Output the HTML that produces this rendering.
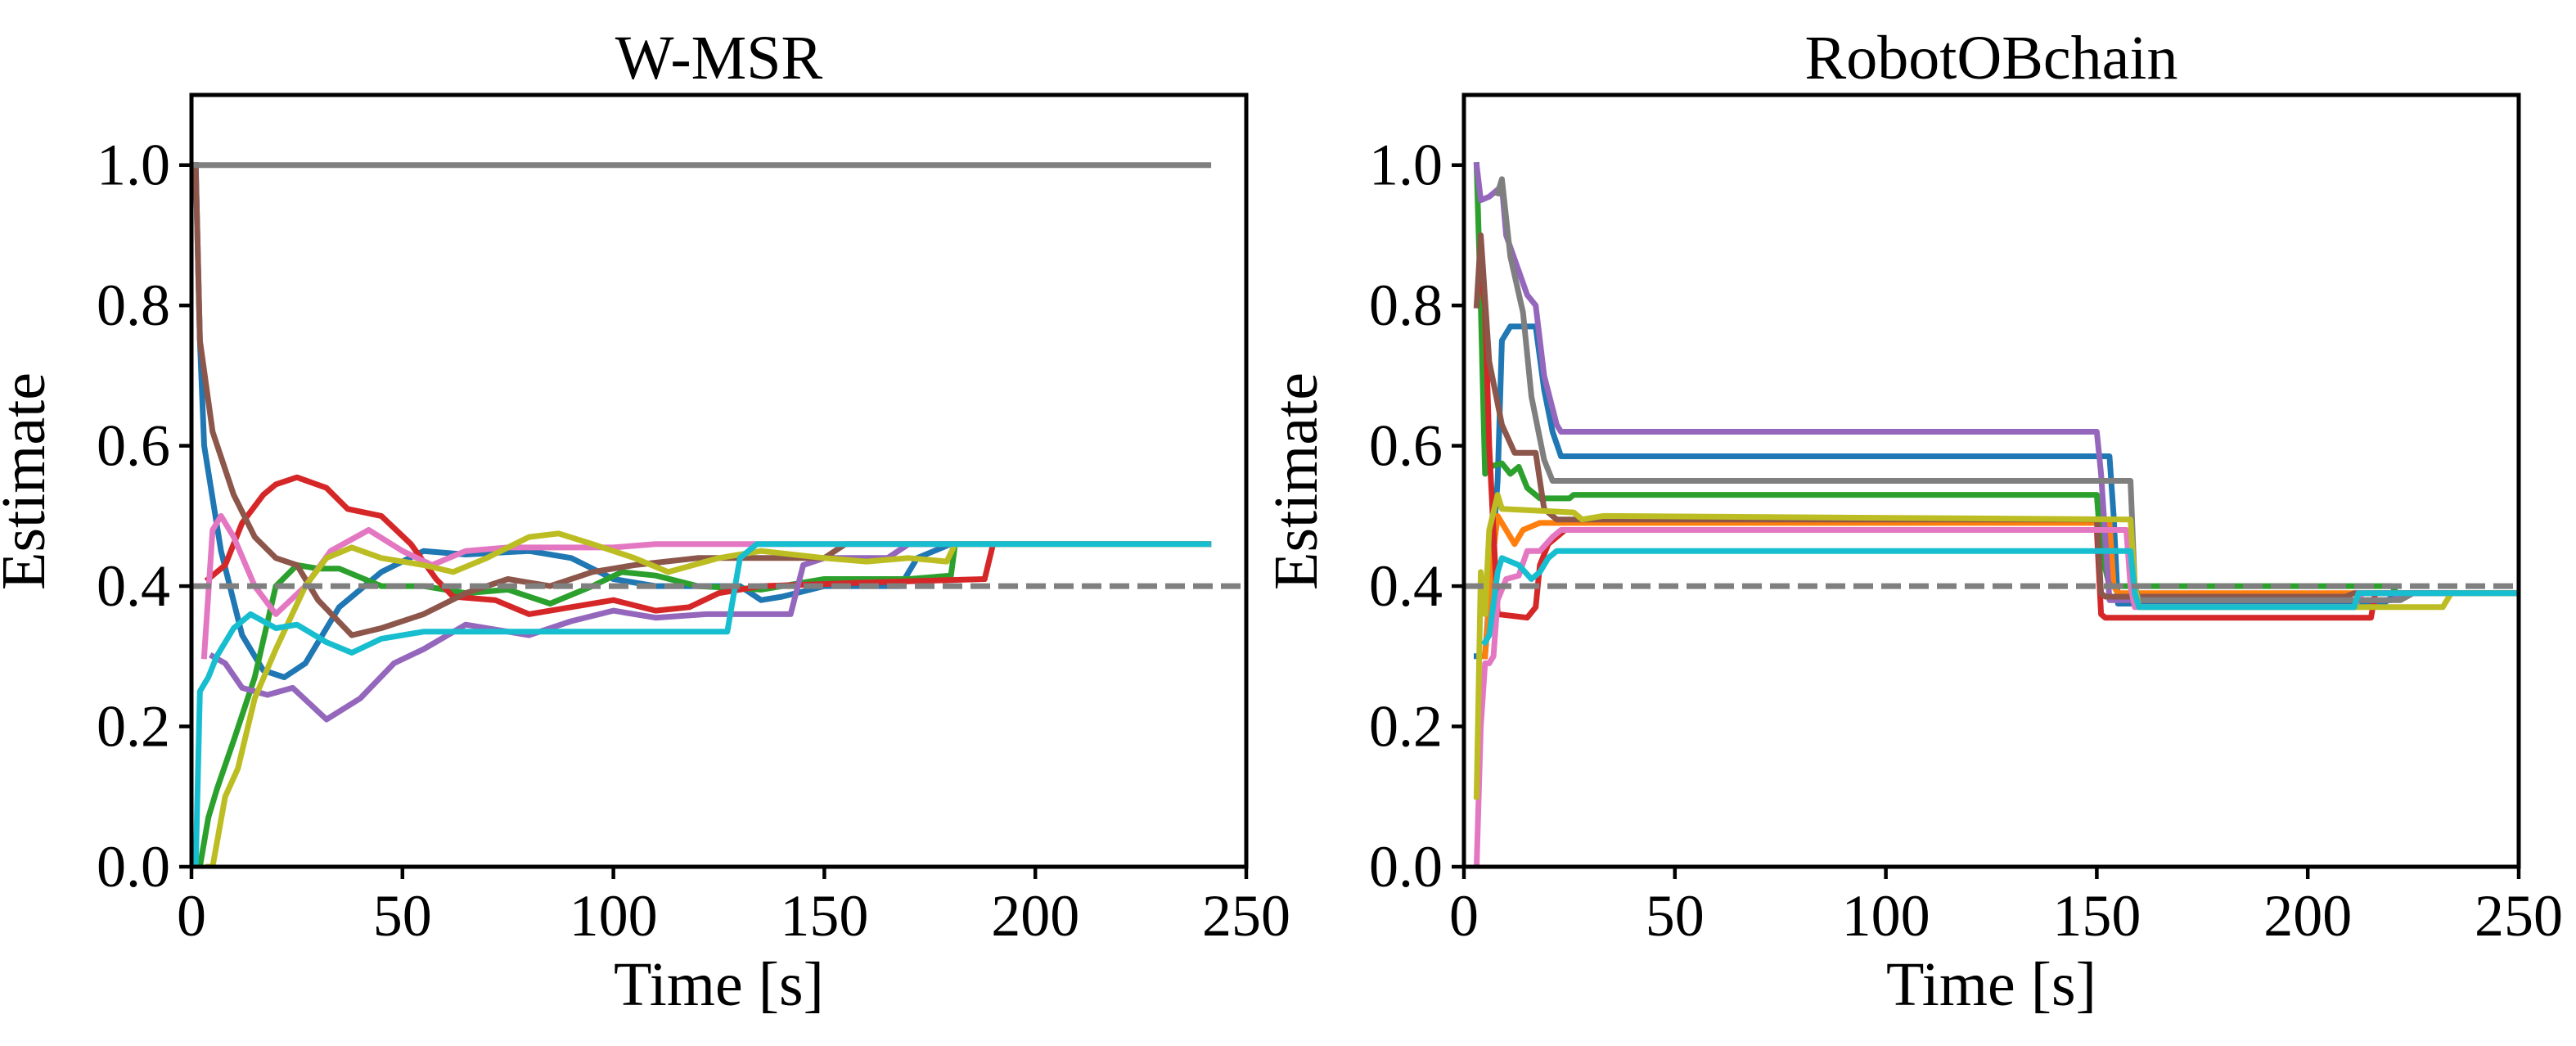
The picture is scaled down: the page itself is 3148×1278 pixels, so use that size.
<!DOCTYPE html>
<html><head><meta charset="utf-8">
<style>
html,body{margin:0;padding:0;background:#fff;}
svg{display:block;}
text{font-family:"Liberation Serif","DejaVu Serif",serif;fill:#000;}
</style></head>
<body>
<svg id="chart" width="3148" height="1278" viewBox="0 0 3148 1278" xmlns="http://www.w3.org/2000/svg"></svg>
<script>
// ---------- data ----------
const xTicks = [0, 50, 100, 150, 200, 250];
const yTicks = [0.0, 0.2, 0.4, 0.6, 0.8, 1.0];
const referenceValue = 0.4;
const seriesColors = ['#1f77b4','#ff7f0e','#2ca02c','#d62728','#9467bd','#8c564b','#e377c2','#7f7f7f','#bcbd22','#17becf'];

// W-MSR series: [time, estimate]
const wBlue = [[1,1.0],[2,0.75],[3,0.6],[7,0.45],[12,0.33],[17,0.28],[22,0.27],[27,0.29],[35,0.37],[45,0.42],[55,0.45],[65,0.445],[80,0.45],[90,0.44],[100,0.41],[110,0.40],[130,0.40],[135,0.38],[140,0.385],[150,0.40],[168,0.40],[172,0.44],[176,0.45],[180,0.46],[241,0.46]];
const wGreen = [[2,0.0],[4,0.07],[6,0.11],[10,0.18],[15,0.27],[20,0.40],[25,0.43],[30,0.425],[35,0.425],[45,0.40],[55,0.40],[65,0.39],[75,0.395],[85,0.375],[95,0.40],[102,0.42],[110,0.415],[120,0.40],[135,0.395],[150,0.41],[170,0.41],[180,0.415],[181,0.46],[241,0.46]];
const wRed = [[4,0.41],[8,0.43],[12,0.49],[17,0.53],[20,0.545],[25,0.555],[32,0.54],[37,0.51],[45,0.50],[52,0.46],[58,0.41],[62,0.385],[72,0.38],[80,0.36],[90,0.37],[100,0.38],[110,0.365],[118,0.37],[125,0.39],[135,0.40],[160,0.405],[188,0.41],[190,0.46],[241,0.46]];
const wPurple = [[5,0.30],[8,0.29],[12,0.255],[18,0.245],[24,0.255],[32,0.21],[40,0.24],[48,0.29],[55,0.31],[65,0.345],[80,0.33],[90,0.35],[100,0.365],[110,0.355],[122,0.36],[142,0.36],[145,0.43],[150,0.44],[165,0.44],[170,0.46],[241,0.46]];
const wBrown = [[1,1.0],[2,0.75],[5,0.62],[10,0.53],[15,0.47],[20,0.44],[25,0.43],[30,0.38],[38,0.33],[45,0.34],[55,0.36],[65,0.39],[75,0.41],[85,0.40],[95,0.42],[105,0.43],[120,0.44],[150,0.44],[155,0.46],[241,0.46]];
const wPink = [[3,0.30],[5,0.48],[7,0.50],[10,0.47],[15,0.40],[20,0.36],[27,0.40],[33,0.45],[42,0.48],[50,0.45],[57,0.43],[65,0.45],[75,0.455],[100,0.455],[110,0.46],[241,0.46]];
const wGray = [[0,1.0],[241,1.0]];
const wOlive = [[4,0.0],[5,0.0],[8,0.10],[11,0.14],[15,0.24],[20,0.31],[27,0.40],[32,0.44],[38,0.455],[45,0.44],[55,0.43],[62,0.42],[70,0.44],[80,0.47],[87,0.475],[95,0.46],[105,0.44],[113,0.42],[125,0.44],[135,0.45],[150,0.44],[160,0.435],[170,0.44],[179,0.435],[181,0.46],[241,0.46]];
const wCyan = [[1,0.0],[2,0.25],[4,0.27],[6,0.30],[10,0.34],[14,0.36],[20,0.34],[25,0.345],[32,0.32],[38,0.305],[45,0.325],[55,0.335],[127,0.335],[130,0.44],[134,0.46],[241,0.46]];

// RobotOBchain series
const rBlue = [[3,0.30],[5,0.30],[8,0.55],[9,0.75],[11,0.77],[17,0.77],[19,0.68],[21,0.62],[23,0.585],[153,0.585],[154,0.50],[155,0.375],[218,0.375],[221,0.39],[250,0.39]];
const rOrange = [[5,0.30],[7,0.45],[8,0.50],[9,0.49],[12,0.46],[14,0.48],[18,0.49],[22,0.49],[153,0.49],[154,0.40],[155,0.39],[250,0.39]];
const rGreen = [[3,1.0],[4,0.80],[5,0.56],[6,0.57],[9,0.575],[11,0.56],[13,0.57],[15,0.54],[18,0.525],[25,0.525],[26,0.53],[150,0.53],[151,0.45],[153,0.40],[220,0.40],[221,0.39],[250,0.39]];
const rRed = [[4,0.85],[5,0.80],[6,0.60],[8,0.36],[15,0.355],[17,0.37],[18,0.43],[20,0.46],[24,0.48],[150,0.48],[151,0.36],[152,0.355],[215,0.355],[216,0.39],[250,0.39]];
const rPurple = [[3,1.0],[4,0.95],[6,0.955],[9,0.97],[10,0.90],[15,0.815],[17,0.80],[19,0.70],[22,0.63],[23,0.62],[150,0.62],[151,0.56],[153,0.38],[220,0.38],[224,0.39],[250,0.39]];
const rBrown = [[3,0.80],[4,0.90],[6,0.72],[9,0.63],[12,0.59],[17,0.59],[19,0.51],[22,0.495],[150,0.495],[151,0.39],[152,0.385],[209,0.385],[211,0.39],[250,0.39]];
const rPink = [[3,0.0],[4,0.20],[5,0.29],[6,0.29],[7,0.30],[8,0.38],[10,0.41],[13,0.415],[15,0.45],[18,0.45],[21,0.47],[23,0.48],[157,0.48],[158,0.40],[159,0.37],[211,0.37],[213,0.39],[250,0.39]];
const rGray = [[8,0.96],[9,0.98],[11,0.87],[14,0.79],[16,0.67],[19,0.58],[21,0.55],[158,0.55],[159,0.40],[160,0.38],[222,0.38],[225,0.39],[250,0.39]];
const rOlive = [[3,0.10],[4,0.42],[5,0.36],[6,0.48],[8,0.53],[9,0.51],[26,0.505],[28,0.495],[33,0.50],[158,0.495],[159,0.40],[160,0.37],[232,0.37],[234,0.39],[250,0.39]];
const rCyan = [[5,0.32],[6,0.33],[8,0.42],[9,0.44],[13,0.43],[16,0.41],[18,0.42],[20,0.44],[22,0.45],[158,0.45],[159,0.39],[160,0.37],[211,0.37],[212,0.39],[250,0.39]];

const wSeries = [wBlue, null, wGreen, wRed, wPurple, wBrown, wPink, wGray, wOlive, wCyan];
const rSeries = [rBlue, rOrange, rGreen, rRed, rPurple, rBrown, rPink, rGray, rOlive, rCyan];
const seriesNames = ['blue','orange','green','red','purple','brown','pink','gray','olive','cyan'];

// ---------- drawing ----------
const NS = 'http://www.w3.org/2000/svg';
const svg = document.getElementById('chart');
function mk(tag, attrs, parent){
  const e = document.createElementNS(NS, tag);
  for (const k in attrs) e.setAttribute(k, attrs[k]);
  (parent||svg).appendChild(e);
  return e;
}
const TOP = 116, BOT = 1059;
function drawPanel(prefix, left, right, title, series){
  const g = mk('g', {});
  
  
  const xs = v => left + (v / 250) * (right - left);
  const ys = v => BOT - (v / 1.1) * (BOT - TOP);
  const cid = prefix + '-clip';
  const cp = mk('clipPath', {id: cid}, g);
  mk('rect', {x: left, y: TOP, width: right-left, height: BOT-TOP}, cp);
  const lines = mk('g', {'clip-path': 'url(#' + cid + ')'}, g);
  series.forEach((s, i) => {
    if (!s) return;
    const d = s.map((p, j) => (j ? 'L' : 'M') + xs(p[0]).toFixed(1) + ',' + ys(p[1]).toFixed(1)).join('');
    const p = mk('path', {d: d, fill: 'none', stroke: seriesColors[i], 'stroke-width': 7, 'stroke-linejoin': 'round', 'stroke-linecap': 'square'}, lines);
    
    
  });
  const ref = mk('line', {x1: left, x2: right, y1: ys(referenceValue), y2: ys(referenceValue), stroke: '#7f7f7f', 'stroke-width': 7, 'stroke-dasharray': '24 10'}, lines);
  
  
  const fr = mk('rect', {x: left, y: TOP, width: right-left, height: BOT-TOP, fill: 'none', stroke: '#000', 'stroke-width': 5}, g);
  
  
  xTicks.forEach(t => {
    const x = xs(t);
    mk('line', {x1: x, x2: x, y1: BOT, y2: BOT + 15, stroke: '#000', 'stroke-width': 4.5}, g);
    const tx = mk('text', {x: x, y: 1143, 'font-size': 72, 'text-anchor': 'middle'}, g);
    tx.textContent = String(t);
    
    
  });
  yTicks.forEach(t => {
    const y = ys(t);
    mk('line', {x1: left, x2: left - 15, y1: y, y2: y, stroke: '#000', 'stroke-width': 4.5}, g);
    const ty = mk('text', {x: left - 26, y: y + 24, 'font-size': 72, 'text-anchor': 'end'}, g);
    ty.textContent = t.toFixed(1);
    
    
  });
  const tt = mk('text', {x: (left + right) / 2, y: 96, 'font-size': 76, 'text-anchor': 'middle'}, g);
  tt.textContent = title;
  
  
  const xl = mk('text', {x: (left + right) / 2, y: 1228, 'font-size': 76, 'text-anchor': 'middle'}, g);
  xl.textContent = 'Time [s]';
  
  
  const lx = left - 180;
  const yl = mk('text', {x: lx, y: 588, 'font-size': 76, 'text-anchor': 'middle', transform: 'rotate(-90 ' + lx + ' 588)'}, g);
  yl.textContent = 'Estimate';
  
  
}
drawPanel('wmsr', 234, 1523, 'W-MSR', wSeries);
drawPanel('robotobchain', 1789, 3078, 'RobotOBchain', rSeries);
</script>
</body></html>
